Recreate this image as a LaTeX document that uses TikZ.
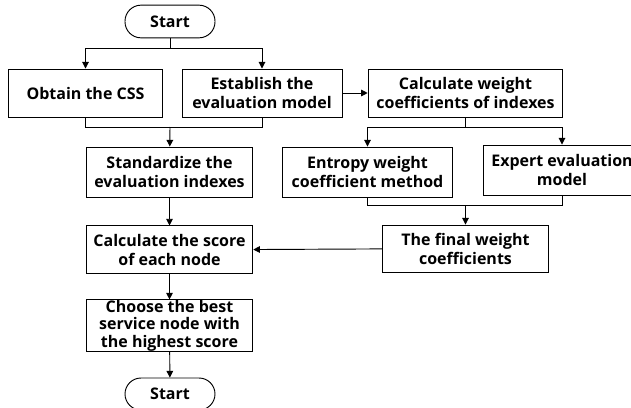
\documentclass[tikz,border=0pt]{standalone}
\usepackage{fontspec}
\setmainfont{Open Sans}
\usetikzlibrary{arrows.meta, positioning}

\begin{document}
\begin{tikzpicture}[
    x=0.75pt, y=-0.75pt,
    box/.style={draw, line width=0.7pt, align=center, inner sep=0pt, font=\fontsize{12}{14.25}\selectfont\bfseries},
    term/.style={box, rounded corners=12pt, minimum width=67.5pt, minimum height=24.5pt},
    arrow/.style={-{Triangle[length=5pt, width=5pt]}, line width=0.7pt},
    line/.style={line width=0.7pt}
  ]
    \useasboundingbox (0,0) rectangle (631,407);

    % Main flow
    \node[term] (start) at (170,21.5) {Start};
    \node[box, minimum width=116pt, minimum height=36pt] (obtain) at (85.5,93) {Obtain the CSS};
    \node[box, minimum width=120pt, minimum height=36pt] (establish) at (262,93) {Establish the\\evaluation model};
    \node[box, minimum width=125pt, minimum height=37.5pt] (standard) at (169.5,172) {Standardize the\\evaluation indexes};
    \node[box, minimum width=125pt, minimum height=36pt, below=21pt of standard] (score) {Calculate the score\\of each node};
    \node[box, minimum width=125pt, minimum height=36.75pt, font=\fontsize{12}{13.2}\selectfont\bfseries] (choose) at (169.5,325.5) {Choose the best\\service node with\\the highest score};
    \node[term, minimum height=24pt] (stop) at (170,394) {Start};

    % Weight branch
    \node[box, minimum width=146pt, minimum height=36pt] (calcw) at (465.5,93) {Calculate weight\\coefficients of indexes};
    \node[box, minimum width=127pt, minimum height=37.5pt] (entropy) at (367.5,172) {Entropy weight\\coefficient method};
    \node[box, minimum width=118.5pt, minimum height=37.5pt] (expert) at (562,170) {Expert evaluation\\model};
    \node[box, minimum width=124pt, minimum height=35.25pt] (final) at (465.5,248.5) {The final weight\\coefficients};

    % Joints
    \coordinate (split1) at (170,48);
    \coordinate (merge1) at (170,127);
    \coordinate (split2) at (465.5,127);
    \coordinate (merge2) at (465.5,205);

    % Arrows
    \draw[line] (start) -- (split1);
    \draw[arrow] (split1) -| (obtain.north);
    \draw[arrow] (split1) -| (establish.north);
    \draw[line] (obtain.south) |- (merge1);
    \draw[line] (establish.south) |- (merge1);
    \draw[arrow] (merge1) -- (standard);
    \draw[arrow] (establish) -- (calcw);
    \draw[line] (calcw) -- (split2);
    \draw[arrow] (split2) -| (entropy.north);
    \draw[arrow] (split2) -| (expert.north);
    \draw[line] (entropy.south) |- (merge2);
    \draw[line] (expert.south) |- (merge2);
    \draw[arrow] (merge2) -- (final);
    \draw[arrow] (final) -- (score);
    \draw[arrow] (standard) -- (score);
    \draw[arrow] (score) -- (choose);
    \draw[arrow] (choose) -- (stop);
  \end{tikzpicture}
\end{document}
